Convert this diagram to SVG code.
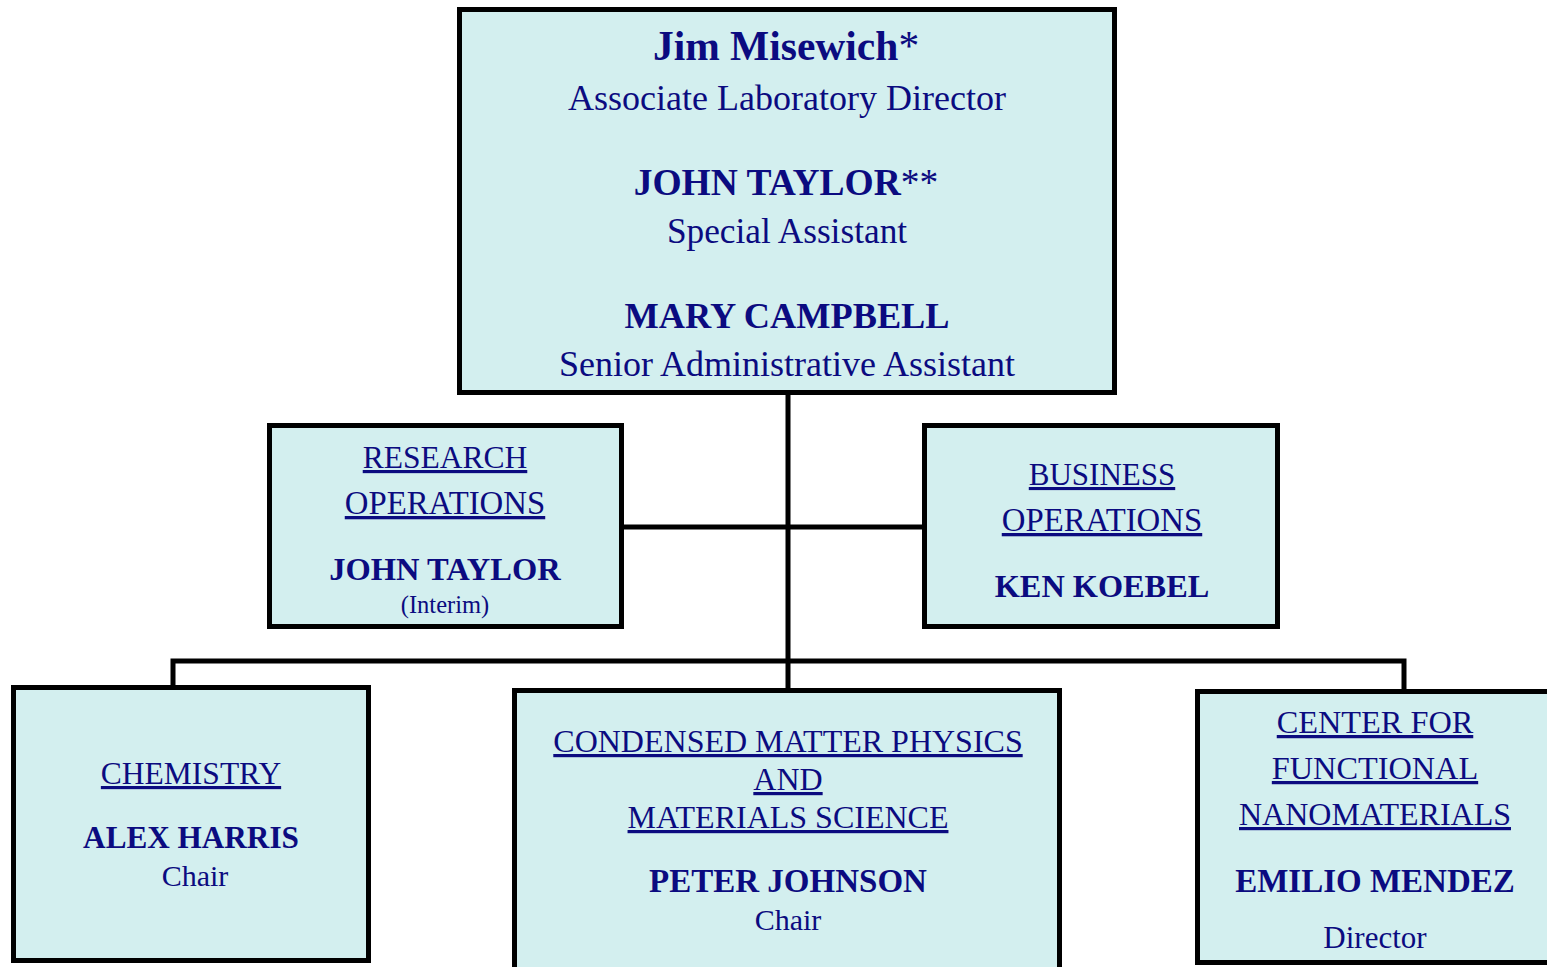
<svg xmlns="http://www.w3.org/2000/svg" width="1547" height="967" viewBox="0 0 1547 967">
<style>
.box{fill:#d3efef;stroke:#000;stroke-width:5}
.ln{stroke:#000;stroke-width:5;fill:none}
text{font-family:"Liberation Serif","Times New Roman",serif;fill:#0b0b80;text-anchor:middle}
.b{font-weight:bold}
.u{text-decoration:underline}
</style>
<rect width="1547" height="967" fill="#fff"/>
<g id="connectors">
<path class="ln" d="M788 395V690"/>
<path class="ln" d="M624 527H922"/>
<path class="ln" d="M173 687V661H1404V691"/>
</g>
<g id="director">
<rect class="box" x="459.5" y="9.5" width="655" height="383"/>
<text x="786" y="60" class="b" font-size="41.5">Jim Misewich<tspan font-weight="normal">*</tspan></text>
<text x="787" y="110" font-size="36">Associate Laboratory Director</text>
<text x="786" y="195" class="b" font-size="37.5">JOHN TAYLOR<tspan font-weight="normal">**</tspan></text>
<text x="787" y="243" font-size="35.3">Special Assistant</text>
<text x="787" y="328" class="b" font-size="36.3">MARY CAMPBELL</text>
<text x="787" y="376" font-size="36">Senior Administrative Assistant</text>
</g>
<g id="research">
<rect class="box" x="269.5" y="425.5" width="352" height="201"/>
<text x="445" y="468" class="u" font-size="31.5">RESEARCH</text>
<text x="445" y="514" class="u" font-size="32.8">OPERATIONS</text>
<text x="445" y="580" class="b" font-size="32.5">JOHN TAYLOR</text>
<text x="445" y="613" font-size="24.5">(Interim)</text>
</g>
<g id="business">
<rect class="box" x="924.5" y="425.5" width="353" height="201"/>
<text x="1102" y="485" class="u" font-size="31">BUSINESS</text>
<text x="1102" y="531" class="u" font-size="32.8">OPERATIONS</text>
<text x="1102" y="597" class="b" font-size="32.3">KEN KOEBEL</text>
</g>
<g id="chemistry">
<rect class="box" x="13.5" y="687.5" width="355" height="273"/>
<text x="191" y="784" class="u" font-size="31.5">CHEMISTRY</text>
<text x="191" y="848" class="b" font-size="31.2">ALEX HARRIS</text>
<text x="195" y="886" font-size="30">Chair</text>
</g>
<g id="cmpms">
<rect class="box" x="514.5" y="690.5" width="545" height="290"/>
<text x="788" y="752" class="u" font-size="32">CONDENSED MATTER PHYSICS</text>
<text x="788" y="790" class="u" font-size="32">AND</text>
<text x="788" y="828" class="u" font-size="32">MATERIALS SCIENCE</text>
<text x="788" y="892" class="b" font-size="33">PETER JOHNSON</text>
<text x="788" y="930" font-size="30">Chair</text>
</g>
<g id="cfn">
<rect class="box" x="1197.5" y="691.5" width="370" height="271"/>
<text x="1375" y="733" class="u" font-size="32.3">CENTER FOR</text>
<text x="1375" y="779" class="u" font-size="32.3">FUNCTIONAL</text>
<text x="1375" y="825" class="u" font-size="32">NANOMATERIALS</text>
<text x="1375" y="892" class="b" font-size="33">EMILIO MENDEZ</text>
<text x="1375" y="948" font-size="31">Director</text>
</g>
</svg>
